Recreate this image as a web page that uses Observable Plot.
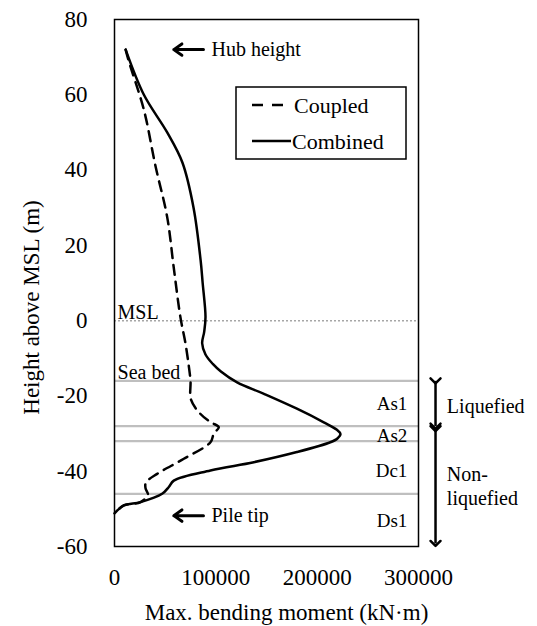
<!DOCTYPE html>
<html><head><meta charset="utf-8">
<script src="https://cdn.jsdelivr.net/npm/d3@7"></script>
<script src="https://cdn.jsdelivr.net/npm/@observablehq/plot@0.6"></script>
<style>body{margin:0;background:#fff;} svg{display:block} svg text{font-family:"Liberation Serif", serif !important;}</style>
</head><body><div id="chart"></div>
<script>
// ---- data ----
const combinedMoment = [11000, 29000, 52000, 67000, 78000, 85000, 87000, 89800, 88500, 86500, 89800, 97000, 105000, 121000, 147000, 180000, 206500, 219500, 223000, 220000, 213000, 180000, 137500, 94700, 58500, 53600, 47000, 25700, 9200, 0];
const combinedHeight = [72, 60, 50, 42, 30, 16, 10, 1, -3, -6, -9, -11.5, -13.5, -16.4, -19.4, -23.4, -27, -29, -30.1, -31.3, -32.3, -34.9, -37.6, -39.8, -42.5, -44.2, -46, -48.2, -49.1, -51.2];
const coupledMoment = [11000, 14000, 29000, 40500, 52000, 58500, 65000, 70000, 73300, 75000, 75500, 84900, 95000, 102900, 98000, 94700, 68400, 42100, 31000, 30600, 33000, 25700, 9200, 0];
const coupledHeight = [72, 69, 56, 41, 27.5, 14, 1, -6, -12, -16, -21, -24.8, -27, -28.3, -30, -32.3, -36.7, -40.7, -43, -44.5, -46.3, -48.2, -49.1, -51.2];
const seriesNames = ["Coupled", "Combined"];
const mslLevel = [0];
const layerBoundaries = [-16, -28, -32, -46];
const layerNames = ["As1", "As2", "Dc1", "Ds1"];
const layerLabelHeights = [-22, -30.5, -39.8, -53.1];
const zoneNames = ["Liquefied", "Non-\nliquefied"];
const zoneTops = [-16, -28.7];
const zoneBottoms = [-28, -59.2];
const zoneLabelHeights = [-22.5, -43.8];
const annotationNames = ["Hub height", "Pile tip"];
const annotationHeights = [72, -51.8];
const waterNames = ["MSL", "Sea bed"];
const waterHeights = [0, -16];
const xTicks = [0, 100000, 200000, 300000];
const yTicks = [-60, -40, -20, 0, 20, 40, 60, 80];
const xLabel = "Max. bending moment (kN\u00b7m)";
const yLabel = "Height above MSL (m)";

const combined = combinedMoment.map((m, i) => ({m, h: combinedHeight[i]}));
const coupled = coupledMoment.map((m, i) => ({m, h: coupledHeight[i]}));
const layers = layerNames.map((name, i) => ({name, h: layerLabelHeights[i]}));
const zones = zoneNames.map((name, i) => ({name, top: zoneTops[i], bottom: zoneBottoms[i], h: zoneLabelHeights[i]}));
const annotations = annotationNames.map((name, i) => ({name, h: annotationHeights[i]}));
const waters = waterNames.map((name, i) => ({name, h: waterHeights[i]}));

const serif = "Liberation Serif";

const svg = Plot.plot({
  width: 537, height: 626,
  marginLeft: 114, marginRight: 119, marginTop: 19, marginBottom: 80,
  style: {fontFamily: serif, fontSize: "21px", color: "#000", background: "#fff", overflow: "visible"},
  x: {domain: [0, 300000]},
  y: {domain: [-60, 80]},
  marks: [
    Plot.ruleY(mslLevel, {x1: 0, x2: 300000, stroke: "#a6a6a6", strokeWidth: 1.5, strokeDasharray: "2,2"}),
    Plot.ruleY(layerBoundaries, {x1: 0, x2: 300000, stroke: "#bfbfbf", strokeWidth: 2.2}),
    Plot.line(coupled, {x: "m", y: "h", curve: "catmull-rom", stroke: "#000", strokeWidth: 2.5, strokeDasharray: "10,7"}),
    Plot.line(combined, {x: "m", y: "h", curve: "catmull-rom", stroke: "#000", strokeWidth: 2.5}),
    Plot.frame({stroke: "#000", strokeWidth: 1.5}),
    Plot.axisY(yTicks, {tickSize: 0, tickPadding: 27, fontSize: 23, label: null, tickFormat: d => String(d)}),
    Plot.axisX(xTicks, {tickSize: 0, tickPadding: 22, fontSize: 23, label: null, tickFormat: d => String(d)}),
    Plot.text([xLabel], {frameAnchor: "bottom", text: d => d, textAnchor: "middle", lineAnchor: "middle", dy: 66, dx: 20, fontSize: 23}),
    Plot.text([yLabel], {frameAnchor: "left", text: d => d, textAnchor: "middle", lineAnchor: "middle", rotate: -90, dx: -83, dy: 24.5, fontSize: 23}),
    // water level labels
    Plot.text(waters, {x: 3000, y: "h", text: "name", textAnchor: "start", lineAnchor: "bottom", dy: -2, fontSize: 20}),
    // layer labels
    Plot.text(layers, {x: 289000, y: "h", text: "name", textAnchor: "end", fontSize: 19}),
    // annotations with arrows
    Plot.arrow(annotations, {x1: 87800, x2: 58500, y1: "h", y2: "h", stroke: "#000", strokeWidth: 3, headLength: 9, headAngle: 70}),
    Plot.text(annotations, {x: 95700, y: "h", text: "name", textAnchor: "start", fontSize: 20}),
    // zone double arrows
    Plot.link(zones, {x1: 316800, x2: 316800, y1: "top", y2: "bottom", stroke: "#000", strokeWidth: 2.5, markerStart: "arrow", markerEnd: "arrow"}),
    Plot.text(zones, {x: 328000, y: "h", text: "name", textAnchor: "start", fontSize: 20, lineHeight: 1.2})
  ]
});
document.getElementById("chart").appendChild(svg);

// legend box inside the plot area
const lg = d3.select(svg).append("g").attr("font-family", serif).attr("font-size", 22).attr("text-anchor", "start");
lg.append("rect").attr("x", 236).attr("y", 87).attr("width", 170).attr("height", 72)
  .attr("fill", "#fff").attr("stroke", "#000").attr("stroke-width", 1.5);
const legendRows = [
  {name: seriesNames[0], dash: "11,9", y: 105, x2: 283, tx: 294},
  {name: seriesNames[1], dash: null, y: 141, x2: 291, tx: 292}
];
legendRows.forEach(r => {
  lg.append("line").attr("x1", 252).attr("x2", r.x2).attr("y1", r.y).attr("y2", r.y)
    .attr("stroke", "#000").attr("stroke-width", 2.5).attr("stroke-dasharray", r.dash);
  lg.append("text").attr("x", r.tx).attr("y", r.y).attr("dy", "0.35em").attr("text-anchor", "start").text(r.name);
});
</script>
</body></html>
